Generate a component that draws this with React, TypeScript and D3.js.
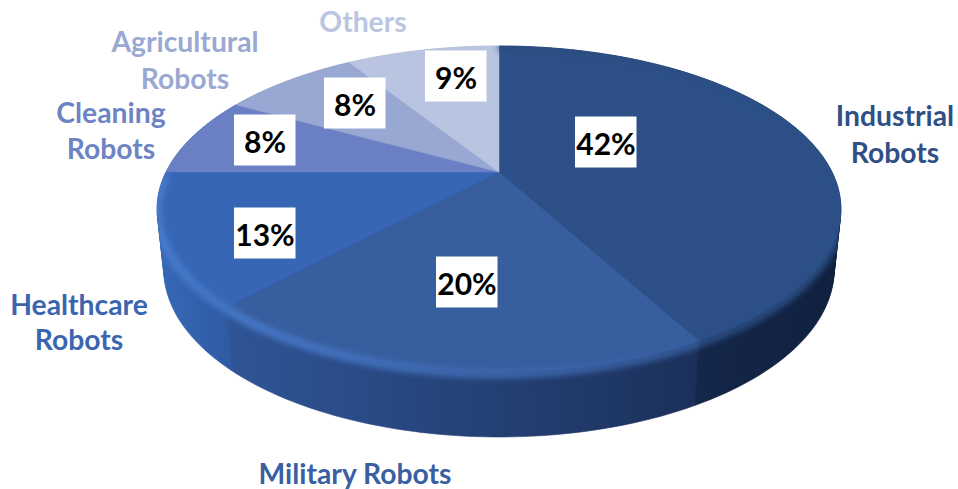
import React from "react";
import * as d3 from "d3";

// Market share by robot type, clockwise from twelve o'clock.
const categories = ["Industrial Robots", "Military Robots", "Healthcare Robots", "Cleaning Robots", "Agricultural Robots", "Others"];
const shares = [42, 20, 13, 8, 8, 9];

const faceColors = ["#2c5087", "#375e9f", "#3766b5", "#6b80c4", "#98a8d2", "#b9c4e0"];
const wallLeft = ["#1a2f58", "#2f5597", "#3767b4", "#3f64b0", "#7f90c4", "#a5b2d6"];
const wallRight = ["#10203f", "#1b3059", "#2f5ba4", "#4a68b8", "#7f90c4", "#a5b2d6"];
const rimLeft = ["#2a4c80", "#4a7dce", "#4a7dce"];
const rimRight = ["#2c5087", "#375e9f", "#4678c8"];
const labelColors = ["#2f5086", "#3a5fa2", "#3a66b0", "#6d84c4", "#9aa9d2", "#bac5e1"];

// Category captions, one entry per drawn line.
const captionLines = [
  ["Industrial", "Robots"],
  ["Military Robots"],
  ["Healthcare", "Robots"],
  ["Cleaning", "Robots"],
  ["Agricultural", "Robots"],
  ["Others"],
];
const captionAnchors: [number, number][] = [[895, 115], [355, 473], [79, 304], [111, 112], [185, 41], [363, 21]];
const captionLeading = [37, 0, 35, 36, 37, 0];
const boxCentres: [number, number][] = [[606, 142], [467, 282], [265, 233], [265, 140], [355, 103], [456, 76]];

const WIDTH = 958;
const HEIGHT = 489;
const APEX_X = 499;
const APEX_Y = 172;
const TILT = 0.227;
const DISC_X = 333;
const DISC_Y = 154.6;
const DEPTH = 60;
const LAYERS = 30;
const FONT = "Lato, 'Open Sans', sans-serif";

// Projects a point on the unit disc onto the tilted pie plane; level 0 is the
// top face, level 1 the bottom of the drum.
const project = (theta: number, level = 0): [number, number] => {
  const u = Math.sin(theta);
  const v = -Math.cos(theta);
  const w = 1 - TILT * v;
  const sx = 1 - 0.02 * level;
  const sy = 1 + 0.025 * level;
  return [APEX_X + (DISC_X * sx * u) / w, APEX_Y + DEPTH * level + (DISC_Y * sy * v) / w];
};

const sampleAngles = (a: number, b: number) => {
  const steps = Math.max(8, Math.ceil((b - a) * 40));
  return d3.range(steps + 1).map((i) => a + ((b - a) * i) / steps);
};

const linePath = d3.line<[number, number]>();

const slices = d3.pie<number>().sort(null).startAngle(0).endAngle(2 * Math.PI)(shares);

const sectorPath = (a: number, b: number, level: number) =>
  linePath([[APEX_X, APEX_Y + DEPTH * level], ...sampleAngles(a, b).map((t) => project(t, level))])! + "Z";

export default function App() {
  const levels = d3.range(LAYERS, -1, -1).map((k) => k / LAYERS);
  return (
    <svg width={WIDTH} height={HEIGHT} style={{ position: "absolute", left: 0, top: 0, background: "#fff" }}>
      <defs>
        <filter id="soft" x="-20%" y="-20%" width="140%" height="140%" colorInterpolationFilters="sRGB">
          <feGaussianBlur stdDeviation="3.2" />
        </filter>
        <filter id="edge" x="-5%" y="-5%" width="110%" height="110%" colorInterpolationFilters="sRGB">
          <feGaussianBlur stdDeviation="0.7" />
        </filter>
        {slices.map((s, i) => {
          const xs = [project(s.startAngle)[0], project(s.endAngle)[0]];
          const x1 = Math.min(...xs);
          const x2 = i === 0 ? project(Math.PI / 2)[0] + 10 : Math.max(...xs);
          return (
            <React.Fragment key={i}>
              <linearGradient id={`wall${i}`} gradientUnits="userSpaceOnUse" x1={x1} x2={x2} y1={0} y2={0}>
                <stop offset="0" stopColor={wallLeft[i]} />
                <stop offset="1" stopColor={wallRight[i]} />
              </linearGradient>
              {i < rimLeft.length && (
                <linearGradient id={`rim${i}`} gradientUnits="userSpaceOnUse" x1={x1} x2={x2} y1={0} y2={0}>
                  <stop offset="0" stopColor={rimLeft[i]} />
                  <stop offset="1" stopColor={rimRight[i]} />
                </linearGradient>
              )}
            </React.Fragment>
          );
        })}
        <clipPath id="body">
          {levels.map((l) => (
            <path key={l} d={linePath(sampleAngles(0, 2 * Math.PI).map((t) => project(t, l)))! + "Z"} />
          ))}
        </clipPath>
      </defs>

      {/* The drum is a stack of sectors swept from the bottom level up to the top face. */}
      <g filter="url(#edge)">
        {levels.map((l) =>
          slices.map((s, i) => (
            <path key={`${l}-${i}`} d={sectorPath(s.startAngle, s.endAngle, l)} fill={`url(#wall${i})`} stroke={`url(#wall${i})`} strokeWidth={0.6} />
          ))
        )}
      </g>

      {/* Top faces */}
      <g filter="url(#edge)">
        {slices.map((s, i) => (
          <path key={i} d={sectorPath(s.startAngle, s.endAngle, 0)} fill={faceColors[i]} stroke={faceColors[i]} strokeWidth={0.5} />
        ))}
      </g>

      {/* Soft bevel along the near edge, where the wall is in view */}
      <g clipPath="url(#body)">
        <g filter="url(#soft)">
          {slices.slice(0, rimLeft.length).map((s, i) => (
            <path
              key={i}
              d={linePath(sampleAngles(s.startAngle, s.endAngle).map((t) => project(t, 0.03)))!}
              fill="none"
              stroke={`url(#rim${i})`}
              strokeWidth={8}
            />
          ))}
        </g>
      </g>

      {/* Percentage boxes */}
      {shares.map((v, i) => {
        const [cx, cy] = boxCentres[i];
        return (
          <g key={i}>
            <rect x={cx - 31} y={cy - 25.5} width={61.5} height={51} fill="#fff" />
            <text x={cx} y={cy + 1} textAnchor="middle" dominantBaseline="central" fontFamily={FONT} fontWeight={700} fontSize={30} fill="#000">
              {v}%
            </text>
          </g>
        );
      })}

      {/* Category captions */}
      {categories.map((name, i) =>
        captionLines[i].map((line, j) => (
          <text
            key={name + j}
            x={captionAnchors[i][0]}
            y={captionAnchors[i][1] + j * captionLeading[i]}
            textAnchor="middle"
            dominantBaseline="central"
            fontFamily={FONT}
            fontWeight={700}
            fontSize={28.3}
            fill={labelColors[i]}
          >
            {line}
          </text>
        ))
      )}
    </svg>
  );
}
